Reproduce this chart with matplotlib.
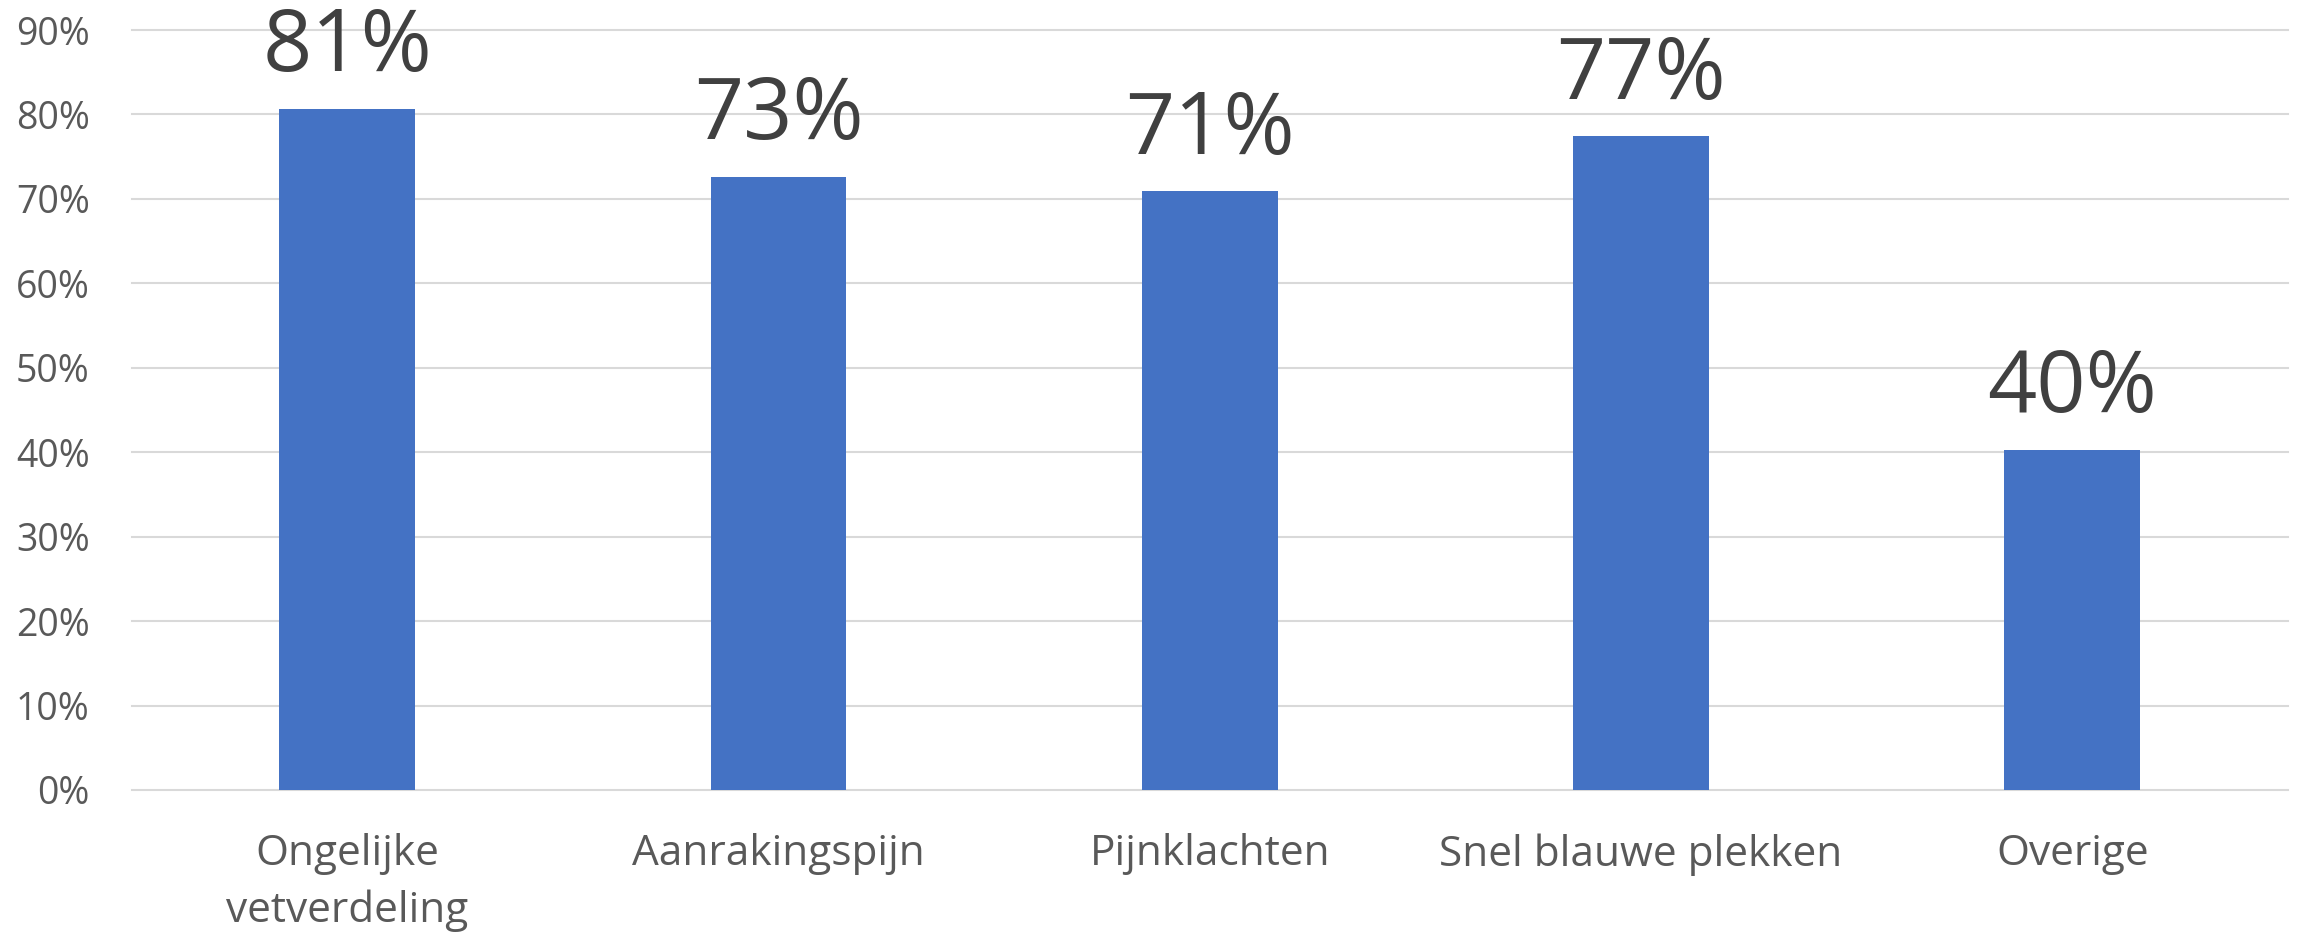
import numpy as np
import matplotlib
matplotlib.use("Agg")
import matplotlib.pyplot as plt
from matplotlib import ticker

# data
categories = ["Ongelijke\nvetverdeling", "Aanrakingspijn", "Pijnklachten",
              "Snel blauwe plekken", "Overige"]
values = [0.807, 0.726, 0.709, 0.774, 0.403]
yticks = [0, 0.1, 0.2, 0.3, 0.4, 0.5, 0.6, 0.7, 0.8, 0.9]

plt.rcParams['font.family'] = ['Open Sans', 'DejaVu Sans']

fig = plt.figure(figsize=(23.03, 9.33), dpi=100)
ax = fig.add_axes([0.0571, 0.1533, 0.9364, 0.8145])

x = np.arange(len(categories))
bars = ax.bar(x, values, width=0.315, color="#4472C4", zorder=2)

# data labels above bars
for xi, v in zip(x, values):
    ax.annotate(f"{v * 100:.0f}%", (xi, v), xytext=(0, 27),
                textcoords="offset points", ha="center", va="baseline",
                fontsize=62, color="#404040", annotation_clip=False)

ax.set_xlim(-0.5, len(categories) - 0.5)
ax.set_ylim(0, 0.9)
ax.set_yticks(yticks)
ax.yaxis.set_major_formatter(ticker.PercentFormatter(1.0, decimals=0))
ax.set_xticks(x)
ax.set_xticklabels(categories, linespacing=1.45)

ax.tick_params(axis="y", length=0, pad=30, labelsize=27, labelcolor="#595959")
ax.tick_params(axis="x", length=0, pad=31, labelsize=30.5, labelcolor="#595959")

ax.grid(axis="y", color="#D9D9D9", linewidth=1.5)
ax.set_axisbelow(True)
for line in ax.get_ygridlines():
    line.set_clip_on(False)

for s in ax.spines.values():
    s.set_visible(False)

plt.savefig("out.png", dpi=100)
plt.close()
